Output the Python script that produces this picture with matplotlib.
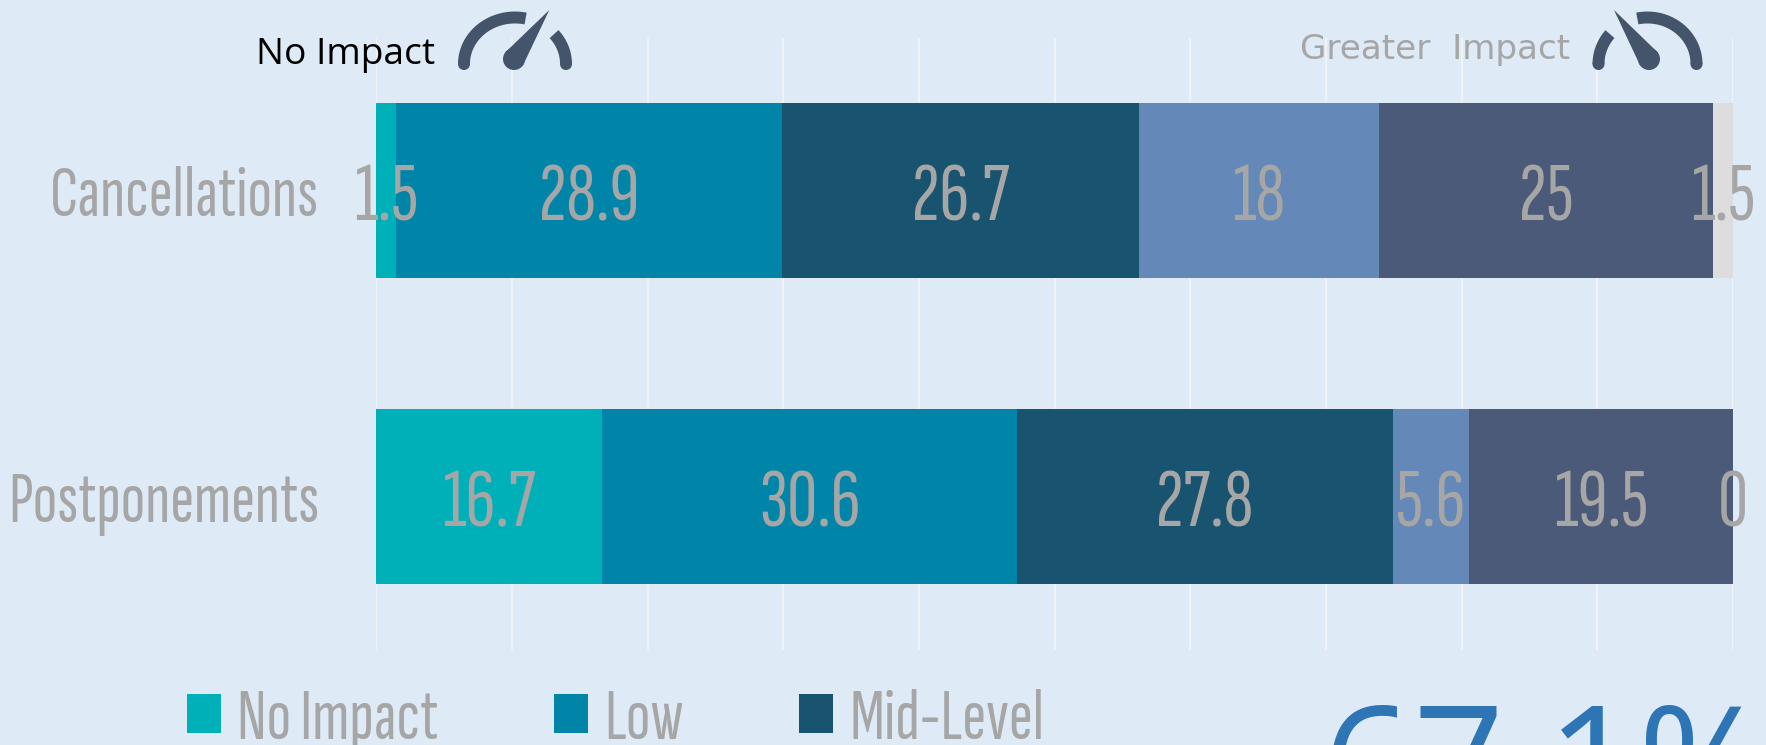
import matplotlib
matplotlib.use("Agg")
import matplotlib.pyplot as plt
import numpy as np
from matplotlib.patches import Patch, Circle, Polygon

categories = ["Cancellations", "Postponements"]
no_impact = [1.5, 16.7]
low = [28.9, 30.6]
mid_level = [26.7, 27.8]
elevated = [18, 5.6]
high = [25, 19.5]
greatest = [1.5, 0]
legend_labels = ["No Impact", "Low", "Mid-Level"]
callout = "67.1%"
left_caption = "No Impact"
right_caption = "Greater  Impact"

BG = "#DEEAF6"
GREY = "#A6A6A6"
SLATE = "#44546A"
COND = "Sofia Sans Extra Condensed"
colors = ["#00B0B9", "#0085A8", "#18536F", "#6488B8", "#4A5A78", "#DDDDDD"]

W, H = 1766, 745
fig = plt.figure(figsize=(W / 100, H / 100), dpi=100, facecolor=BG)
ax = fig.add_axes([376.3 / W, 1 - 649.5 / H, (1733 - 376.3) / W, (649.5 - 37.5) / H], facecolor=BG)

series = np.array([no_impact, low, mid_level, elevated, high, greatest], dtype=float)
shares = series / series.sum(axis=0) * 100
lefts = np.zeros(2)
y = np.arange(2)
handles = []
for vals, share, col in zip(series, shares, colors):
    ax.barh(y, share, left=lefts, height=0.57, color=col, zorder=2)
    for yi, v, l, s in zip(y, vals, lefts, share):
        ax.annotate(f"{v:g}", (l + s / 2, yi), xytext=(0, -1), textcoords="offset points",
                    ha="center", va="center_baseline", color=GREY, family=COND,
                    fontsize=60, zorder=3, annotation_clip=False)
    lefts = lefts + share
    handles.append(Patch(facecolor=col))

ax.set_xlim(0, 100)
ax.set_ylim(1.5, -0.5)
ax.set_xticks(np.arange(0, 101, 10))
ax.set_yticks(y, categories)
ax.set_xticklabels([])
ax.grid(axis="x", color="#EFF3F8", lw=1.6, zorder=1)
ax.set_axisbelow(True)
ax.tick_params(length=0)
ax.tick_params(axis="y", pad=41, labelcolor=GREY, labelsize=52)
for lab in ax.get_yticklabels():
    lab.set_family(COND)
    lab.set_va("center_baseline")
for s in ax.spines.values():
    s.set_visible(False)

fs = 52
px = fs * 100 / 72
fig.legend(handles[:3], legend_labels, ncol=3, frameon=False, loc="lower left",
           bbox_to_anchor=(187 / W, 1 - 753 / H), borderaxespad=0, borderpad=0,
           labelcolor=GREY, prop={"family": COND, "size": fs},
           handlelength=34 / px, handleheight=33 / px, handletextpad=16 / px,
           columnspacing=115.5 / px)

ov = fig.add_axes([0, 0, 1, 1], facecolor="none")
ov.set_xlim(0, W)
ov.set_ylim(H, 0)
ov.axis("off")


def arc(cx, cy, rx, ry, a0, a1):
    t = np.radians(np.linspace(a0, a1, 60))
    ov.plot(cx + rx * np.cos(t), cy - ry * np.sin(t), color=SLATE, lw=8.6,
            solid_capstyle="butt")


def gauge(cx, cy, rx, ry, big, small, tip, hub, hub_r):
    arc(cx, cy, rx, ry, *big)
    arc(cx, cy, rx, ry, *small)
    for sign in (-1, 1):
        ov.add_patch(Circle((cx + sign * rx, cy), 6, color=SLATE, lw=0))
    hub = np.array(hub, float)
    tip = np.array(tip, float)
    d = tip - hub
    n = np.array([-d[1], d[0]]) / np.hypot(*d) * hub_r
    ov.add_patch(Polygon([tip, hub + n, hub - n], closed=True, color=SLATE, lw=0))
    ov.add_patch(Circle(hub, hub_r, color=SLATE, lw=0))


gauge(515, 64, 51, 46.5, (78, 180), (0, 40), (549.3, 10), (514, 59), 11)
gauge(1647.5, 64, 49, 46.5, (0, 102), (140, 180), (1614, 10), (1649, 59), 11)

ov.text(256, 64, left_caption, color="black", family="Open Sans", fontsize=26.7, va="baseline")
ov.text(1300.5, 59, right_caption, color=GREY, family="DejaVu Sans", fontsize=24.6, va="baseline")
ov.text(1322, 820, callout, color="#2E75B6", family="Open Sans", fontsize=115, va="baseline")

fig.savefig("out.png", dpi=100, facecolor=BG)
